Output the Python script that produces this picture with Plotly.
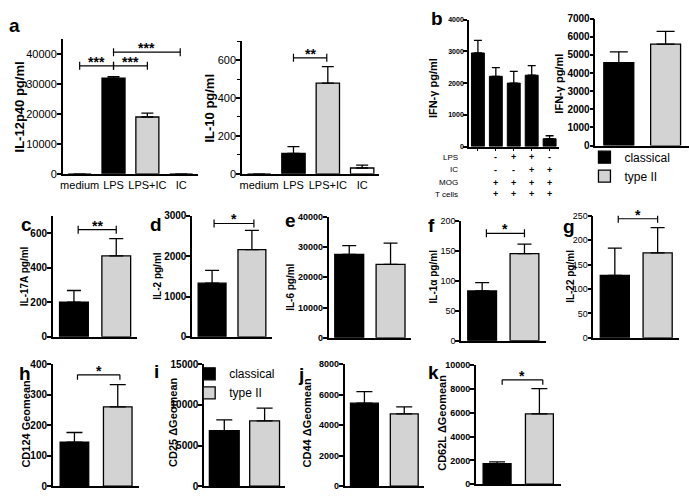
import plotly.graph_objects as go

W, H = 689, 499
FONT = "Arial, 'Liberation Sans', sans-serif"
GREY = "#d3d3d3"

# ---------------- data ----------------
a_cats = ["medium", "LPS", "LPS+IC", "IC"]
il12_vals = [0, 32000, 19000, 0]
il12_err = [0, 500, 1300, 0]
il10_vals = [0, 108, 479, 31]
il10_err = [0, 36, 87, 15]

b1_cats = ["1", "2", "3", "4", "5"]
b1_vals = [2950, 2215, 2000, 2250, 246]
b1_err = [400, 275, 370, 300, 94]
b1_rows = ["LPS", "IC", "MOG", "T cells"]
b1_table = [["-", "+", "+", "-", "-"],
            ["-", "-", "+", "+", "-"],
            ["+", "+", "+", "+", "-"],
            ["+", "+", "+", "+", "+"]]

groups = ["classical", "type II"]
ifn_vals = [4580, 5600]
ifn_err = [590, 700]
il17_vals = [200, 468]
il17_err = [68, 100]
il2_vals = [1330, 2160]
il2_err = [320, 480]
il6_vals = [27600, 24300]
il6_err = [2900, 7000]
il1a_vals = [83, 145]
il1a_err = [14, 16]
il22_vals = [128, 174]
il22_err = [56, 52]
cd124_vals = [144, 260]
cd124_err = [32, 73]
cd25_vals = [6840, 8040]
cd25_err = [1320, 1560]
cd44_vals = [5440, 4740]
cd44_err = [760, 460]
cd62l_vals = [1720, 5900]
cd62l_err = [160, 2130]

# tick labels
il12_ticks = [0, 10000, 20000, 30000, 40000]
il10_ticks = [0, 200, 400, 600]
b1_ticks = [0, 1000, 2000, 3000, 4000]
ifn_ticks = [0, 1000, 2000, 3000, 4000, 5000, 6000, 7000]
il17_ticks = [0, 200, 400, 600]
il2_ticks = [0, 1000, 2000, 3000]
il6_ticks = [0, 10000, 20000, 30000, 40000]
il1a_ticks = [0, 50, 100, 150, 200]
il22_ticks = [0, 50, 100, 150, 200, 250]
cd124_ticks = [0, 100, 200, 300, 400]
cd25_ticks = [0, 5000, 10000, 15000]
cd44_ticks = [0, 2000, 4000, 6000, 8000]
cd62l_ticks = [0, 2000, 4000, 6000, 8000, 10000]

# ---------------- figure ----------------
fig = go.Figure()
layout = dict(
    width=W, height=H, margin=dict(l=0, r=0, t=0, b=0),
    paper_bgcolor="white", plot_bgcolor="white",
    font=dict(family=FONT, color="black"),
    barmode="overlay", showlegend=True,
)
annotations = []
shapes = []


def names(i):
    return ("x" if i == 1 else f"x{i}"), ("y" if i == 1 else f"y{i}")


def panel(i, box, ymax, ticks, tsize, tbold, cats, minor=None, xlabels=False,
          xticks=False):
    x0, x1, yt, yb = box
    xr, yr = names(i)
    n = len(cats)
    layout["xaxis" if i == 1 else f"xaxis{i}"] = dict(
        domain=[x0 / W, x1 / W], anchor=yr, type="category",
        categoryorder="array", categoryarray=cats, range=[-0.5, n - 0.5],
        showline=True, linecolor="black", linewidth=1.5, showgrid=False,
        zeroline=False, ticks="outside" if xticks else "",
        ticklen=3, tickwidth=1, tickcolor="black",
        showticklabels=xlabels, tickfont=dict(size=11, family=FONT),
    )
    ya = dict(
        domain=[1 - yb / H, 1 - yt / H], anchor=xr, range=[0, ymax],
        showline=True, linecolor="black", linewidth=1.5, showgrid=False,
        zeroline=False, ticks="outside", ticklen=4, tickwidth=1.5,
        tickcolor="black", tickmode="array", tickvals=ticks,
        ticktext=[str(t) for t in ticks], ticklabelstandoff=-2,
        tickfont=dict(size=tsize, family=FONT,
                      weight="bold" if tbold else "normal"),
    )
    if minor:
        ya["minor"] = dict(tickvals=minor, ticks="outside", ticklen=3,
                           tickwidth=1.2, tickcolor="black")
    layout["yaxis" if i == 1 else f"yaxis{i}"] = ya
    return xr, yr


def err(arr, w):
    return dict(type="data", symmetric=False, array=arr,
                arrayminus=[0] * len(arr), color="black", thickness=1.3,
                width=w)


def two_group(i, vals, errs, bw, cw, legend=None):
    xr, yr = names(i)
    for g, v, e, c in zip(groups, vals, errs, ["black", GREY]):
        fig.add_trace(go.Bar(
            x=[g], y=[v], name=g, xaxis=xr, yaxis=yr, width=bw,
            marker=dict(color=c, line=dict(color="black", width=1.3)),
            error_y=err([e], cw), showlegend=legend is not None,
            legend=legend or "legend"))


def ylabel(text, cx, cy, size, bold=True):
    annotations.append(dict(
        text=text, x=cx / W, y=1 - cy / H, xref="paper", yref="paper",
        textangle=-90, showarrow=False, xanchor="center", yanchor="middle",
        font=dict(size=size, family=FONT, weight="bold" if bold else "normal")))


def letter(text, x, y):
    annotations.append(dict(
        text=text, x=x / W, y=1 - y / H, xref="paper", yref="paper",
        showarrow=False, xanchor="left", yanchor="middle",
        font=dict(size=19, family=FONT, weight="bold")))


def sig(i, xa, xb, yv, stars, down=False):
    xr, yr = names(i)
    shapes.append(dict(type="line", xref=xr, yref=yr, x0=xa, x1=xb,
                       y0=yv, y1=yv, line=dict(color="black", width=1.2)))
    for xx in (xa, xb):
        shapes.append(dict(type="line", xref=xr, yref=yr, x0=xx, x1=xx,
                           ysizemode="pixel", yanchor=yv,
                           y0=-5 if down else -4, y1=0 if down else 4,
                           line=dict(color="black", width=1.2)))
    annotations.append(dict(text=stars, x=(xa + xb) / 2, y=yv, xref=xr,
                            yref=yr, showarrow=False, yanchor="bottom",
                            yshift=-6, font=dict(size=14, family=FONT,
                                                 weight="bold")))


# ---- panel a ----
xr, yr = panel(1, (60, 196, 34, 172), 45000, il12_ticks, 11, False, a_cats,
               xlabels=True)
fig.add_trace(go.Bar(x=a_cats, y=il12_vals, xaxis=xr, yaxis=yr, width=0.68,
                     marker=dict(color=["black", "black", GREY, "white"],
                                 line=dict(color="black", width=1.3)),
                     error_y=err(il12_err, 6), showlegend=False))
sig(1, 0, 1, 36100, "***")
sig(1, 1, 2, 36100, "***")
sig(1, 1, 2.97, 40650, "***")
ylabel("IL-12p40 pg/ml", 17, 103, 13)
letter("a", 4, 20)

xr, yr = panel(2, (240, 378, 36, 172), 700, il10_ticks, 11, False, a_cats,
               minor=[100, 300, 500, 700], xlabels=True)
fig.add_trace(go.Bar(x=a_cats, y=il10_vals, xaxis=xr, yaxis=yr, width=0.68,
                     marker=dict(color=["white", "black", GREY, "white"],
                                 line=dict(color="black", width=1.3)),
                     error_y=err(il10_err, 6), showlegend=False))
sig(2, 1, 1.97, 612, "**")
ylabel("IL-10 pg/ml", 207, 105, 13)

# ---- panel b ----
xr, yr = panel(3, (468, 558, 14, 144), 4000, b1_ticks, 7, True, b1_cats,
               xticks=True)
fig.add_trace(go.Bar(x=b1_cats, y=b1_vals, xaxis=xr, yaxis=yr, width=0.72,
                     marker=dict(color="black",
                                 line=dict(color="black", width=1)),
                     error_y=err(b1_err, 4), showlegend=False))
ylabel("IFN-\u03b3 pg/ml", 432, 84, 11)
letter("b", 428, 13)
row_y = [155, 168, 181, 193]
for rname, ry, signs in zip(b1_rows, row_y, b1_table):
    annotations.append(dict(text=rname, x=459 / W, y=1 - ry / H,
                            xref="paper", yref="paper", showarrow=False,
                            xanchor="right", yanchor="middle",
                            font=dict(size=8, family=FONT)))
    for c, s in zip(b1_cats, signs):
        annotations.append(dict(text=s, x=c, y=1 - ry / H, xref=xr,
                                yref="paper", showarrow=False,
                                xanchor="center", yanchor="middle",
                                font=dict(size=9, family=FONT,
                                          weight="bold")))

panel(4, (595, 689, 13, 143), 7000, ifn_ticks, 10, True, groups)
two_group(4, ifn_vals, ifn_err, 0.64, 9, legend="legend")
ylabel("IFN-\u03b3 pg/ml", 559, 80, 11)

# ---- row c-g ----
panel(5, (50, 135, 215, 339), 700, il17_ticks, 10, True, groups)
two_group(5, il17_vals, il17_err, 0.68, 7)
sig(5, 0.1, 1.0, 620, "**")
ylabel("IL-17A pg/ml", 21, 277, 10)
letter("c", 16, 224)

panel(6, (190, 270, 215, 339), 3000, il2_ticks, 10, True, groups)
two_group(6, il2_vals, il2_err, 0.7, 7)
sig(6, 0.05, 1.05, 2810, "*")
ylabel("IL-2 pg/ml", 155, 277, 10)
letter("d", 146, 224)

panel(7, (327, 410, 216, 340), 40000, il6_ticks, 9, True, groups)
two_group(7, il6_vals, il6_err, 0.7, 7)
ylabel("IL-6 pg/ml", 288, 288, 10)
letter("e", 281, 220)

panel(8, (460, 545, 220, 343), 200, il1a_ticks, 9, False, groups)
two_group(8, il1a_vals, il1a_err, 0.68, 7)
sig(8, 0.1, 1.0, 179, "*")
ylabel("IL-1\u03b1 pg/ml", 432, 277, 10)
letter("f", 425, 225)

panel(9, (593, 679, 215, 340), 250, il22_ticks, 9, False, groups)
two_group(9, il22_vals, il22_err, 0.68, 7)
sig(9, 0.08, 1.0, 244, "*")
ylabel("IL-22 pg/ml", 570, 277, 10)
letter("g", 560, 226)

# ---- row h-k ----
panel(10, (50, 137, 367, 492), 400, cd124_ticks, 10, True, groups)
two_group(10, cd124_vals, cd124_err, 0.66, 8)
sig(10, 0.07, 1.05, 365, "*", down=True)
ylabel("CD124 Geomean", 23, 428, 11)
letter("h", 14, 377)

panel(11, (202, 283, 367, 492), 15000, cd25_ticks, 10, True, groups)
two_group(11, cd25_vals, cd25_err, 0.74, 8, legend="legend2")
ylabel("CD25 \u0394Geomean", 170, 427, 11)
letter("i", 150, 375)

panel(12, (343, 423, 367, 492), 8000, cd44_ticks, 9, True, groups)
two_group(12, cd44_vals, cd44_err, 0.7, 8)
ylabel("CD44 \u0394Geomean", 305, 427, 11)
letter("j", 294, 378)

panel(13, (475, 560, 368, 490), 10000, cd62l_ticks, 9, True, groups)
two_group(13, cd62l_vals, cd62l_err, 0.66, 8)
sig(13, 0.12, 1.08, 8770, "*", down=True)
ylabel("CD62L \u0394Geomean", 441, 427, 11)
letter("k", 425, 376)

leg_common = dict(xanchor="left", yanchor="top", bgcolor="rgba(0,0,0,0)",
                  font=dict(size=12, family=FONT), itemwidth=30,
                  tracegroupgap=0, traceorder="normal")
layout["legend"] = dict(x=584 / W, y=1 - 140 / H, **leg_common)
layout["legend2"] = dict(x=187 / W, y=1 - 362 / H, **leg_common)
layout["annotations"] = annotations
layout["shapes"] = shapes
fig.update_layout(**layout)
fig.write_html("out.html", config={"displayModeBar": False},
               post_script="document.body.style.margin='0px';"
                           "document.body.style.padding='0px';")
